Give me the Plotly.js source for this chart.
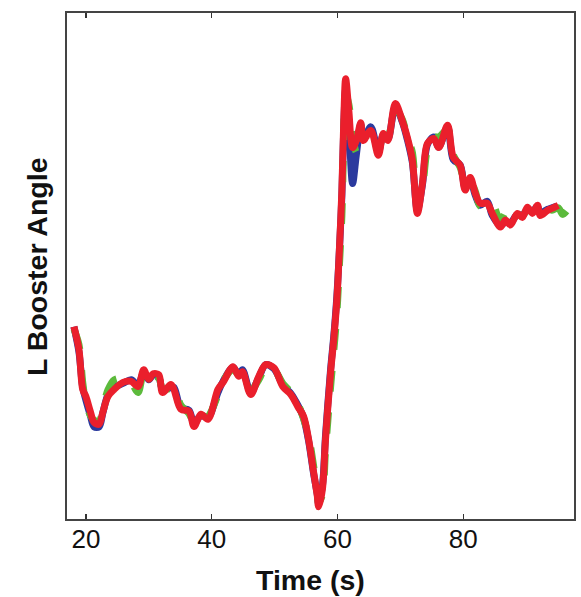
<!DOCTYPE html>
<html>
<head>
<meta charset="utf-8">
<script src="https://cdn.plot.ly/plotly-3.0.1.min.js"></script>
<style>html,body{margin:0;padding:0;background:#fff;}#chart{width:581px;height:597px;}</style>
</head>
<body>
<div id="chart"></div>
<script>
// Time (s)
const tRed = [18.1,18.9,19.5,20.0,20.7,21.3,22.1,22.7,23.5,24.5,25.9,27.2,28.3,29.2,30.0,30.7,31.6,32.2,33.5,34.0,35.1,36.4,37.2,38.3,39.4,41.0,41.8,43.4,44.3,44.9,46.2,47.5,48.6,49.9,51.3,52.6,53.7,54.6,55.4,56.2,56.8,57.0,57.6,58.1,58.9,59.4,59.9,60.3,60.7,61.0,61.3,61.8,62.4,63.0,63.7,64.1,65.3,66.5,67.3,68.0,69.2,70.3,71.1,71.9,72.7,73.5,74.3,75.3,76.1,77.5,78.4,79.5,80.3,81.1,81.9,82.7,83.8,84.6,85.9,86.7,87.5,88.6,89.4,90.2,91.0,91.8,92.2,93.4,94.1,95.1];
const angleRed = [38.0,33.5,25.6,24.2,21.3,19.1,18.7,21.1,24.2,25.6,27.0,27.2,26.2,29.5,27.6,28.7,28.5,25.0,26.6,25.6,21.7,21.3,18.3,20.7,19.7,25.6,27.0,30.1,28.2,29.1,24.6,28.2,30.5,29.9,26.2,24.6,22.2,20.3,15.8,9.3,4.5,2.4,5.9,15.8,28.9,35.4,43.3,53.1,65.0,78.7,87.0,80.7,73.4,74.8,78.3,74.8,76.8,71.9,76.2,74.8,82.1,78.7,75.4,70.9,60.4,66.3,74.2,75.2,73.4,77.8,71.5,69.9,65.0,67.5,64.4,62.4,62.4,60.4,57.7,59.1,58.1,60.4,59.6,61.6,60.4,62.0,60.0,61.0,61.4,62.0];

const tBlue = [18.1,18.9,19.5,20.0,20.7,21.3,22.1,22.7,23.5,24.5,25.9,27.2,28.3,29.2,30.0,30.7,31.6,32.2,33.5,34.0,35.1,36.4,37.2,38.3,39.4,41.0,41.8,43.4,44.3,44.9,46.2,47.5,48.6,49.9,51.3,52.6,53.7,54.6,55.4,56.2,56.8,57.0,57.6,58.1,58.9,59.4,59.9,60.3,60.7,61.0,61.3,61.8,62.4,63.0,63.7,64.1,65.3,66.5,67.3,68.0,69.2,70.3,71.1,71.9,72.7,73.5,74.3,75.3,76.1,77.5,78.4,79.5,80.3,81.1,81.9,82.7,83.8,84.6,85.9,86.7,87.5,88.6,89.4,90.2,91.0,91.8,92.2,93.4,94.1,94.8];
const angleBlue = [38.0,33.0,26.0,23.5,20.5,18.2,18.2,21.0,24.5,26.0,26.8,27.5,26.5,29.0,27.5,28.5,28.0,25.5,26.0,26.0,22.0,21.5,18.8,20.5,20.0,25.0,27.2,30.0,28.5,29.5,25.0,28.0,30.5,29.7,26.5,24.8,22.5,20.0,15.5,9.0,4.8,3.0,6.5,16.5,29.5,36.0,44.0,53.0,64.0,77.5,85.0,78.0,66.3,72.0,78.0,75.0,77.5,72.5,76.0,75.0,81.5,78.5,75.0,70.5,61.0,66.0,74.0,75.5,73.5,77.5,71.0,70.0,65.5,67.0,64.0,62.0,62.8,60.0,58.0,58.7,58.5,60.2,60.0,61.2,60.8,61.8,60.5,61.2,61.5,61.8];

const tGreen = [18.1,18.9,19.5,20.0,20.7,21.3,22.1,22.7,23.5,24.5,25.9,27.2,28.3,29.2,30.0,30.7,31.6,32.2,33.5,34.0,35.1,36.4,37.2,38.3,39.4,41.0,41.8,43.4,44.3,44.9,46.2,47.5,48.6,49.9,51.3,52.6,53.7,54.6,55.4,56.2,56.8,57.0,57.6,58.1,58.9,59.4,59.9,60.3,60.7,61.0,61.3,61.8,62.4,63.0,63.7,64.1,65.3,66.5,67.3,68.0,69.2,70.3,71.1,71.9,72.7,73.5,74.3,75.3,76.1,77.5,78.4,79.5,80.3,81.1,81.9,82.7,83.8,84.6,85.9,86.7,87.5,88.6,89.4,90.2,91.0,91.8,92.2,93.4,94.1,95.1,95.8,96.5];
const angleGreen = [37.5,34.5,27.0,23.0,20.5,19.5,19.3,21.8,25.5,27.5,27.8,27.0,25.0,28.8,27.8,28.2,27.8,25.8,25.8,26.2,22.5,20.8,19.0,19.5,20.2,24.5,27.3,29.5,28.5,28.8,25.5,27.5,30.0,29.6,26.8,25.0,22.8,19.8,16.5,10.5,5.5,3.2,4.8,13.5,26.0,33.0,40.5,50.0,60.0,75.0,84.0,82.0,76.0,72.5,77.5,75.5,76.0,73.5,75.5,75.5,81.0,79.0,75.5,72.5,62.5,65.5,73.0,75.5,75.5,77.0,72.0,69.5,66.5,66.8,64.8,61.8,62.6,62.5,58.8,60.5,58.6,60.0,60.0,61.0,61.0,61.5,60.8,61.5,61.0,61.5,60.2,61.0];

const xTicks = [20, 40, 60, 80];

const common = {mode: 'lines', type: 'scatter', hoverinfo: 'skip', showlegend: false};
const traces = [
  Object.assign({}, common, {x: tBlue, y: angleBlue, line: {color: '#2b3a9e', width: 7, shape: 'spline', smoothing: 0.9}}),
  Object.assign({}, common, {x: tGreen, y: angleGreen, line: {color: '#5cba3c', width: 7, dash: 'dash', shape: 'spline', smoothing: 0.9}}),
  Object.assign({}, common, {x: tRed, y: angleRed, line: {color: '#ea1f2c', width: 7, shape: 'spline', smoothing: 0.9}})
];

const titleFont = {family: 'Liberation Sans, Arial, sans-serif', size: 28.5, weight: 'bold', color: '#111'};

const layout = {
  width: 581, height: 597,
  paper_bgcolor: '#fff', plot_bgcolor: '#fff',
  margin: {l: 67, r: 7, t: 13, b: 78, pad: 0},
  font: {family: 'Liberation Sans, Arial, sans-serif', color: '#111'},
  xaxis: {
    range: [17.0, 97.6], tickvals: xTicks, ticktext: xTicks.map(String),
    ticks: 'inside', ticklen: 5, tickwidth: 1.5, tickcolor: '#333',
    showline: true, linecolor: '#444', linewidth: 2, mirror: 'ticks',
    showgrid: false, zeroline: false, ticklabelstandoff: -4,
    tickfont: {size: 26, color: '#111'}
  },
  yaxis: {
    range: [0, 100], showticklabels: false, ticks: '',
    showline: true, linecolor: '#444', linewidth: 2, mirror: true,
    showgrid: false, zeroline: false
  },
  annotations: [
    {text: 'Time (s)', xref: 'paper', yref: 'paper', x: 0.481, y: -0.1206, xanchor: 'center', yanchor: 'middle', showarrow: false, font: titleFont},
    {text: 'L Booster Angle', xref: 'paper', yref: 'paper', x: -0.0592, y: 0.5, xanchor: 'center', yanchor: 'middle', textangle: -90, showarrow: false, font: titleFont}
  ]
};

Plotly.newPlot('chart', traces, layout, {staticPlot: true, displayModeBar: false});
</script>
</body>
</html>
